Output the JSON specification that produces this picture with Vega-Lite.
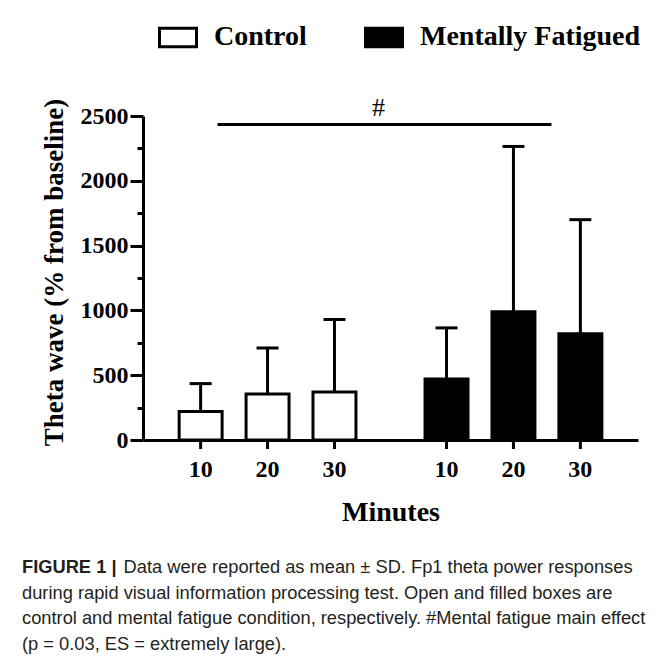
{
  "$schema": "https://vega.github.io/schema/vega-lite/v6.json",
  "width": 495,
  "height": 324,
  "autosize": {"type": "none"},
  "padding": {"left": 143, "top": 116, "right": 31, "bottom": 219},
  "background": "white",
  "config": {"view": {"stroke": null}, "font": "Liberation Serif"},
  "title": {
    "text": "FIGURE 1 |",
    "subtitle": [
      "\u200b\u00a0\u00a0\u00a0\u00a0\u00a0\u00a0\u00a0\u00a0\u00a0\u00a0\u00a0\u00a0\u00a0\u00a0\u00a0\u00a0\u00a0\u00a0\u00a0\u00a0Data were reported as mean ± SD. Fp1 theta power responses",
      "during rapid visual information processing test. Open and filled boxes are",
      "control and mental fatigue condition, respectively. #Mental fatigue main effect",
      "(p = 0.03, ES = extremely large)."
    ],
    "orient": "bottom",
    "anchor": "start",
    "frame": "group",
    "font": "Liberation Sans",
    "fontSize": 18.3,
    "fontWeight": "bold",
    "color": "#231f20",
    "subtitleFont": "Liberation Sans",
    "subtitleFontSize": 18.3,
    "subtitleFontWeight": "normal",
    "subtitleColor": "#231f20",
    "subtitleLineHeight": 25.7,
    "subtitlePadding": -18.3,
    "baseline": "top",
    "dx": -121,
    "offset": 33
  },
  "datasets": {
    "bars": [
      {"group": "Control", "minute": "10", "mean": 220, "upper": 435},
      {"group": "Control", "minute": "20", "mean": 355, "upper": 710},
      {"group": "Control", "minute": "30", "mean": 370, "upper": 930},
      {"group": "Mentally Fatigued", "minute": "10", "mean": 470, "upper": 865},
      {"group": "Mentally Fatigued", "minute": "20", "mean": 990, "upper": 2265},
      {"group": "Mentally Fatigued", "minute": "30", "mean": 820, "upper": 1700}
    ],
    "sig": [
      {"from": "Control", "to": "Mentally Fatigued", "level": 2435, "label": "#"}
    ]
  },
  "layer": [
    {
      "data": {"name": "bars"},
      "mark": {"type": "bar", "stroke": "black", "strokeWidth": 3},
      "encoding": {
        "x": {
          "field": "group", "type": "nominal",
          "scale": {"domain": ["Control", "Mentally Fatigued"], "paddingInner": 0.281, "paddingOuter": 0.147},
          "axis": {
            "title": "Minutes", "titleFont": "Liberation Serif", "titleFontSize": 28,
            "titleFontWeight": "bold", "titleColor": "black", "titlePadding": 58,
            "labels": false, "ticks": false, "domainColor": "black", "domainWidth": 3
          }
        },
        "xOffset": {
          "field": "minute", "type": "nominal",
          "scale": {"domain": ["10", "20", "30"], "paddingInner": 0.358, "paddingOuter": 0}
        },
        "y": {
          "field": "mean", "type": "quantitative",
          "scale": {"domain": [0, 2500], "nice": false},
          "axis": {
            "orient": "left",
            "values": [0, 500, 1000, 1500, 2000, 2500],
            "format": "d",
            "title": "Theta wave (% from baseline)",
            "titleFont": "Liberation Serif", "titleFontSize": 27, "titleFontWeight": "bold",
            "titleColor": "black", "titlePadding": 12, "titleY": 156,
            "labelFont": "Liberation Serif", "labelFontSize": 24, "labelFontWeight": "bold",
            "labelColor": "black", "labelPadding": 2,
            "tickSize": 13, "tickWidth": 3, "tickColor": "black",
            "domainColor": "black", "domainWidth": 3, "grid": false
          }
        },
        "fill": {
          "field": "group", "type": "nominal",
          "scale": {"domain": ["Control", "Mentally Fatigued"], "range": ["white", "black"]},
          "legend": {
            "orient": "none", "legendX": 15, "legendY": -99, "direction": "horizontal",
            "title": null, "symbolType": "M-1,-0.5H1V0.5H-1Z", "symbolSize": 1369,
            "symbolStrokeWidth": 3, "symbolStrokeColor": "black", "symbolOpacity": 1,
            "labelFont": "Liberation Serif", "labelFontSize": 28, "labelFontWeight": "bold",
            "labelColor": "black", "labelOffset": 16, "columnPadding": 52, "padding": 0,
            "labelLimit": 400
          }
        }
      }
    },
    {
      "data": {"name": "bars"},
      "mark": {"type": "rule", "color": "black", "strokeWidth": 3},
      "encoding": {
        "x": {"field": "group", "type": "nominal"},
        "xOffset": {"field": "minute", "type": "nominal"},
        "y": {
          "field": "mean", "type": "quantitative",
          "axis": {
            "orient": "left", "values": [250, 750, 1250, 1750, 2250],
            "labels": false, "domain": false, "title": null, "grid": false,
            "tickSize": 6, "tickWidth": 3, "tickColor": "black"
          }
        },
        "y2": {"field": "upper"}
      }
    },
    {
      "data": {"name": "bars"},
      "mark": {"type": "tick", "color": "black", "thickness": 3, "size": 22, "opacity": 1, "orient": "horizontal"},
      "encoding": {
        "x": {"field": "group", "type": "nominal"},
        "xOffset": {"field": "minute", "type": "nominal"},
        "y": {"field": "upper", "type": "quantitative", "axis": null}
      }
    },
    {
      "data": {"name": "bars"},
      "mark": {"type": "rule", "color": "black", "strokeWidth": 3, "y2Offset": 9},
      "encoding": {
        "x": {"field": "group", "type": "nominal"},
        "xOffset": {"field": "minute", "type": "nominal"},
        "y": {"datum": 0, "type": "quantitative", "axis": null},
        "y2": {"datum": 0}
      }
    },
    {
      "data": {"name": "bars"},
      "mark": {"type": "text", "font": "Liberation Serif", "fontSize": 24, "fontWeight": "bold", "color": "black", "baseline": "middle", "dy": 30},
      "encoding": {
        "x": {"field": "group", "type": "nominal"},
        "xOffset": {"field": "minute", "type": "nominal"},
        "y": {"datum": 0, "type": "quantitative", "axis": null},
        "text": {"field": "minute"}
      }
    },
    {
      "data": {"name": "sig"},
      "mark": {"type": "rule", "color": "black", "strokeWidth": 3, "xOffset": -50, "x2Offset": 38},
      "encoding": {
        "x": {"field": "from", "type": "nominal"},
        "x2": {"field": "to"},
        "y": {"field": "level", "type": "quantitative", "axis": null}
      }
    },
    {
      "data": {"name": "sig"},
      "mark": {"type": "text", "font": "Liberation Serif", "fontSize": 26, "color": "black", "baseline": "middle", "dx": 111, "dy": -16},
      "encoding": {
        "x": {"field": "from", "type": "nominal"},
        "y": {"field": "level", "type": "quantitative", "axis": null},
        "text": {"field": "label"}
      }
    }
  ],
  "resolve": {"axis": {"y": "independent"}}
}
